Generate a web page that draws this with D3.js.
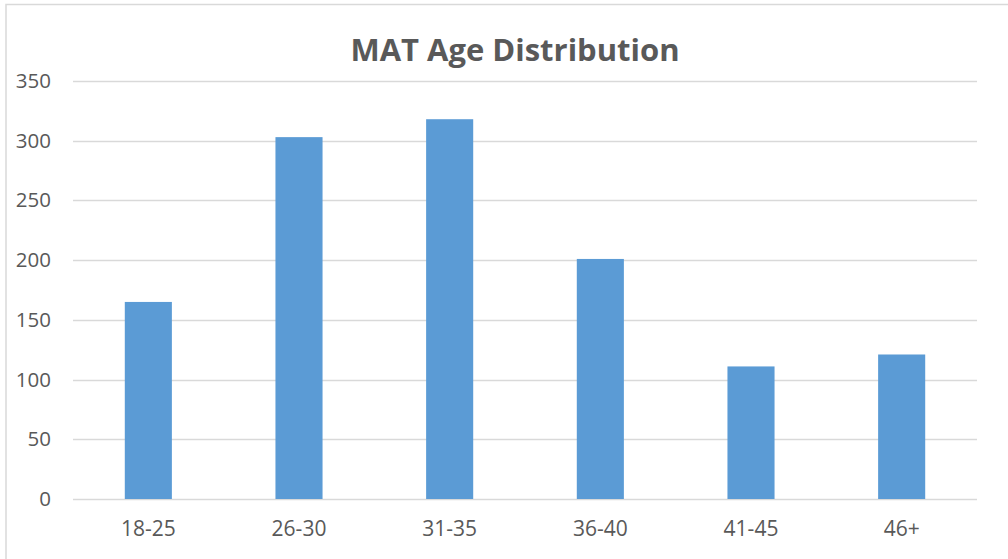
<!DOCTYPE html>
<html>
<head>
<meta charset="utf-8">
<script src="https://cdn.jsdelivr.net/npm/d3@7"></script>
<style>
  body { margin: 0; background: #fff; }
  svg { display: block; }
</style>
</head>
<body>
<div id="viz"></div>
<script>
// data
const ageGroups = ["18-25", "26-30", "31-35", "36-40", "41-45", "46+"]
const counts = [165, 303, 318, 201, 111, 121]
const yTicks = [0, 50, 100, 150, 200, 250, 300, 350]
const chartTitle = "MAT Age Distribution"

const width = 1008, height = 559
const margin = { top: 81, right: 31, bottom: 60, left: 73 }
const textColor = "#595959",
      gridColor = "#d9d9d9",
      barColor = "#5b9bd5"

const svg = d3.select("#viz").append("svg")
  .attr("width", width)
  .attr("height", height)

// chart frame (only top and left edges are visible in the crop)
svg.append("path")
  .attr("d", `M6,${height}V4.5H${width}`)
  .attr("fill", "none")
  .attr("stroke", gridColor)
  .attr("stroke-width", 1.5)

const x = d3.scaleBand()
  .domain(ageGroups)
  .range([margin.left, width - margin.right])
  .paddingInner(0.6875)
  .paddingOuter(0.34375)

const y = d3.scaleLinear()
  .domain([0, 350])
  .range([height - margin.bottom, margin.top])

// gridlines
svg.append("g")
  .selectAll("line")
  .data(yTicks)
  .join("line")
    .attr("x1", margin.left)
    .attr("x2", width - margin.right)
    .attr("y1", d => Math.round(y(d)) + 0.5)
    .attr("y2", d => Math.round(y(d)) + 0.5)
    .attr("stroke", gridColor)
    .attr("stroke-width", 1.5)

// y axis labels
const yAxis = svg.append("g")
  .attr("transform", `translate(${margin.left - 22},0)`)
  .call(d3.axisLeft(y).tickValues(yTicks).tickSize(0).tickPadding(0))
yAxis.select(".domain").remove()
yAxis.selectAll("text")
  .attr("fill", textColor)
  .attr("font-family", "'Open Sans', sans-serif")
  .attr("font-size", 20.5)

// bars
svg.append("g")
  .selectAll("rect")
  .data(counts)
  .join("rect")
    .attr("x", (d, i) => x(ageGroups[i]))
    .attr("y", d => y(d))
    .attr("width", x.bandwidth())
    .attr("height", d => y(0) - y(d))
    .attr("fill", barColor)

// x axis labels
const xAxis = svg.append("g")
  .attr("transform", `translate(0,${y(0) + 22})`)
  .call(d3.axisBottom(x).tickSize(0).tickPadding(0))
xAxis.select(".domain").remove()
xAxis.selectAll("text")
  .attr("dy", "0.71em")
  .attr("fill", textColor)
  .attr("font-family", "'Open Sans', sans-serif")
  .attr("font-size", 21)

// title
svg.append("text")
  .attr("x", 515)
  .attr("y", 61)
  .attr("text-anchor", "middle")
  .attr("fill", textColor)
  .attr("font-family", "'Open Sans', sans-serif")
  .attr("font-weight", "bold")
  .attr("font-size", 31)
  .text(chartTitle)
</script>
</body>
</html>
